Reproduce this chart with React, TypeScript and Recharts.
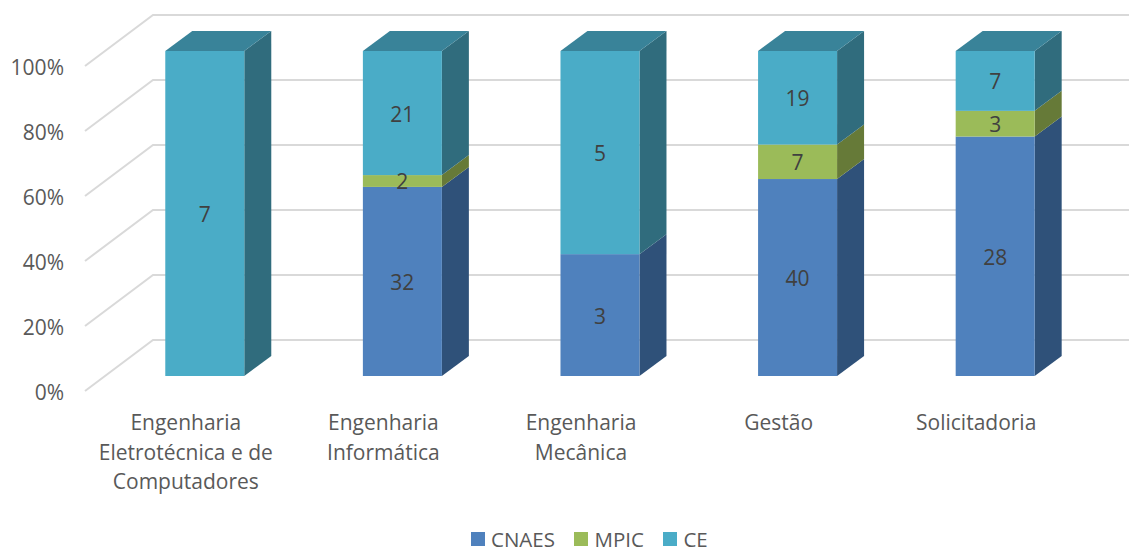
import { Bar, BarChart, CartesianGrid, LabelList, Legend, XAxis, YAxis } from "recharts"

const categories = [
  "Engenharia\nEletrotécnica e de\nComputadores",
  "Engenharia\nInformática",
  "Engenharia\nMecânica",
  "Gestão",
  "Solicitadoria",
]
const cnaes = [null, 32, 3, 40, 28]
const mpic = [null, 2, null, 7, 3]
const ce = [7, 21, 5, 19, 7]
const yTicks = [0, 0.2, 0.4, 0.6, 0.8, 1]

const data = categories.map((name, i) => ({
  name,
  CNAES: cnaes[i],
  MPIC: mpic[i],
  CE: ce[i],
}))

const series = [
  { key: "CNAES", front: "#4f81bd", side: "#2f5179", top: "#3d6797" },
  { key: "MPIC", front: "#9bbb59", side: "#667a38", top: "#7c9647" },
  { key: "CE", front: "#4aacc7", side: "#306c7d", top: "#398399" },
]

const DEPTH_X = 27
const DEPTH_Y = 20
const FONT = "'Open Sans', sans-serif"

// front, side and top faces of one stacked segment
function Box3D(props: any) {
  const { x, y, width, height, value, front, side, top } = props
  if (!height || height <= 0) return null
  const right = x + width
  const bottom = y + height
  return (
    <g>
      <polygon
        points={`${right},${y} ${right + DEPTH_X},${y - DEPTH_Y} ${right + DEPTH_X},${bottom - DEPTH_Y} ${right},${bottom}`}
        fill={side}
      />
      {value?.[1] >= 0.999 && (
        <polygon
          points={`${x},${y} ${x + DEPTH_X},${y - DEPTH_Y} ${right + DEPTH_X},${y - DEPTH_Y} ${right},${y}`}
          fill={top}
        />
      )}
      <rect x={x} y={y} width={width} height={height} fill={front} />
    </g>
  )
}

// back wall line plus the diagonal on the side wall
function WallLine(props: any) {
  const y = props.y1
  return (
    <g key={props.key} stroke="#d9d9d9" strokeWidth={2} fill="none">
      <polyline points={`85,${y + 15} 153,${y - 36} 1129,${y - 36}`} />
    </g>
  )
}

function PercentTick({ y, payload }: any) {
  return (
    <text x={64} y={y + 17} dy="0.35em" textAnchor="end" fontFamily={FONT} fontSize={21} fill="#595959">
      {`${Math.round(payload.value * 100)}%`}
    </text>
  )
}

function CategoryTick({ x, payload }: any) {
  const lines = String(payload.value).split("\n")
  return (
    <text textAnchor="middle" fontFamily={FONT} fontSize={21} fill="#595959">
      {lines.map((line, i) => (
        <tspan key={line} x={x - 19} y={430 + i * 29.5}>
          {line}
        </tspan>
      ))}
    </text>
  )
}

function LegendRow() {
  return (
    <div
      style={{
        display: "flex",
        alignItems: "center",
        boxSizing: "border-box",
        padding: "10px 0 0 471px",
        fontFamily: FONT,
        fontSize: 20.5,
        lineHeight: "20px",
        color: "#595959",
        height: 30,
      }}
    >
      {series.map((s) => (
        <div key={s.key} style={{ display: "flex", alignItems: "center", marginRight: 19.5 }}>
          <span style={{ width: 14, height: 14, background: s.front, marginRight: 6 }} />
          {s.key}
        </div>
      ))}
    </div>
  )
}

export default function App() {
  return (
    <div style={{ position: "absolute", left: 0, top: 0, width: 1129, height: 549, background: "#fff" }}>
      <BarChart
        width={1129}
        height={549}
        data={data}
        stackOffset="expand"
        barCategoryGap="30%"
        margin={{ top: 51, right: 35, left: 0, bottom: 0 }}
      >
        <CartesianGrid vertical={false} horizontal={WallLine} />
        <XAxis dataKey="name" interval={0} height={143} tickLine={false} axisLine={false} tick={CategoryTick} />
        <YAxis width={106} domain={[0, 1]} ticks={yTicks} tickLine={false} axisLine={false} tick={PercentTick} />
        <Legend height={30} content={LegendRow} wrapperStyle={{ left: 0, width: 1129, bottom: 0 }} />
        {series.map((s) => (
          <Bar
            key={s.key}
            dataKey={s.key}
            stackId="a"
            fill={s.front}
            isAnimationActive={false}
            shape={(p: any) => <Box3D {...p} front={s.front} side={s.side} top={s.top} />}
          >
            <LabelList dataKey={s.key} position="center" dy={1} fontFamily={FONT} fontSize={21} fill="#404040" />
          </Bar>
        ))}
      </BarChart>
    </div>
  )
}
